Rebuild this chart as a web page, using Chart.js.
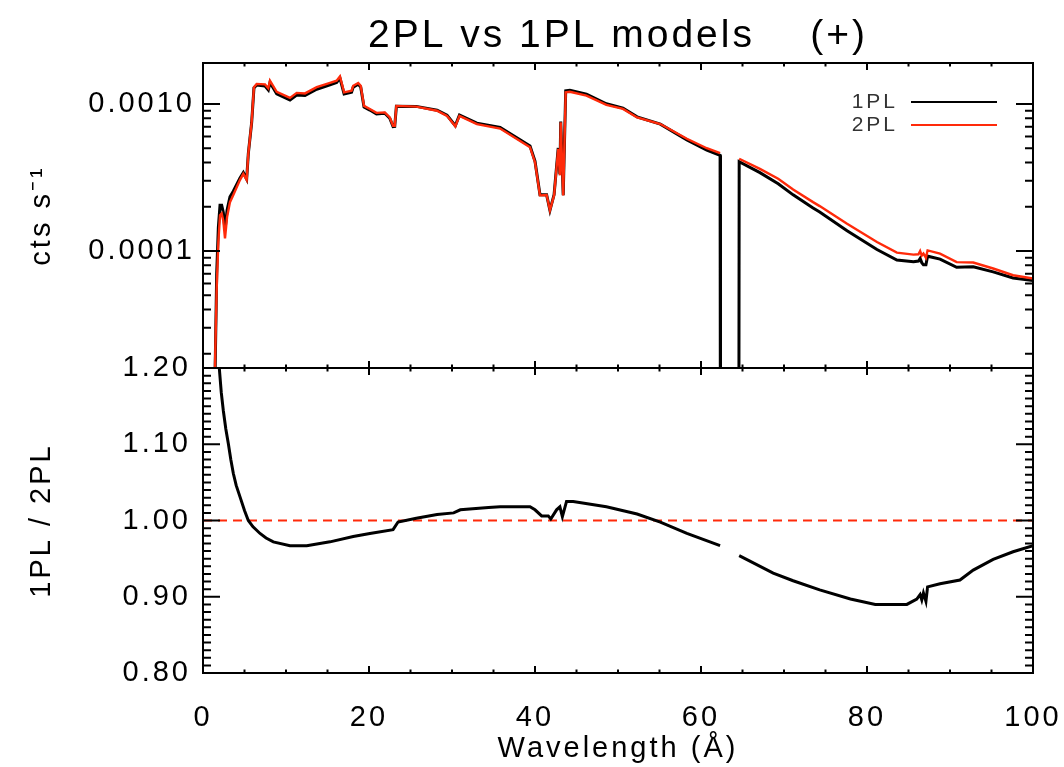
<!DOCTYPE html>
<html>
<head>
<meta charset="utf-8">
<title>2PL vs 1PL models</title>
<script src="https://cdn.jsdelivr.net/npm/chart.js@4/dist/chart.umd.min.js"></script>
<style>
  html, body { margin: 0; padding: 0; background: #fff; }
  #wrap { position: relative; width: 1064px; height: 767px; overflow: hidden; }
  canvas { position: absolute; left: 0; }
  #fluxChart { top: 0; }
  #ratioChart { top: 340px; }
</style>
</head>
<body>
<div id="wrap">
  <canvas id="fluxChart" width="1064" height="372"></canvas>
  <canvas id="ratioChart" width="1064" height="427"></canvas>
</div>
<script>
/* ── DATA ───────────────────────────────────────── */
// top panel: count rate of both models (cts/s) vs wavelength (Å)
const wavelength = [
  1.40, 1.45, 1.65, 1.85, 2.05, 2.25, 2.45, 2.65, 2.9, 3.25, 3.65, 4.46, 4.86, 5.26, 5.46,
  5.86, 6.14, 6.47, 7.47, 7.87, 8.07, 8.88, 10.48, 11.29, 12.29, 13.7, 15.3, 16.1, 16.5,
  17.0, 17.9, 18.1, 18.7, 19.0, 19.4, 20.1, 20.9, 21.9, 22.5, 22.9, 23.1, 23.3, 25.7,
  28.2, 29.4, 30.4, 30.9, 33.0, 35.8, 38.2, 39.4, 40.0, 40.6, 41.4, 41.8, 42.3, 42.8,
  43.0, 43.1, 43.4, 43.7, 44.2, 46.2, 48.6, 50.6, 52.3, 55.1, 58.3, 60.7, 62.3, 62.35,
  64.55, 64.6, 67.1, 69.3, 71.1, 73.5, 74.3, 77.6, 81.2, 83.6, 85.6, 86.2, 86.4, 86.6,
  86.8, 87.1, 87.3, 88.8, 90.8, 92.8, 95.2, 97.6, 100
];
const flux1PL = [
  1e-6, 1.4e-5, 7e-5, 1.45e-4, 2.05e-4, 2.05e-4, 1.83e-4, 1.38e-4, 1.89e-4, 2.34e-4, 2.55e-4, 3.14e-4, 3.42e-4, 3.08e-4, 4.6e-4,
  7.45e-4, 1.285e-3, 1.347e-3, 1.326e-3, 1.245e-3, 1.40e-3, 1.174e-3, 1.064e-3, 1.151e-3, 1.141e-3, 1.259e-3, 1.351e-3, 1.401e-3, 1.50e-3,
  1.171e-3, 1.204e-3, 1.302e-3, 1.362e-3, 1.304e-3, 9.52e-4, 9.09e-4, 8.56e-4, 8.64e-4, 7.99e-4, 7.01e-4, 7.04e-4, 9.66e-4, 9.63e-4,
  9.07e-4, 8.38e-4, 7.12e-4, 8.41e-4, 7.41e-4, 6.92e-4, 5.70e-4, 5.17e-4, 4.08e-4, 2.41e-4, 2.41e-4, 1.89e-4, 2.42e-4, 5.02e-4,
  3.33e-4, 7.6e-4, 2.40e-4, 1.23e-3, 1.24e-3, 1.166e-3, 1.003e-3, 9.38e-4, 8.17e-4, 7.29e-4, 5.70e-4, 4.86e-4, 4.48e-4, 1e-6,
  1e-6, 4.05e-4, 3.41e-4, 2.87e-4, 2.41e-4, 1.96e-4, 1.84e-4, 1.375e-4, 1.023e-4, 8.68e-5, 8.45e-5, 8.55e-5, 8.9e-5, 8.33e-5,
  8.05e-5, 8.05e-5, 9.22e-5, 8.8e-5, 7.74e-5, 7.8e-5, 7.21e-5, 6.56e-5, 6.29e-5
];
const flux2PL = [
  1e-6, 1.7e-5, 5.6e-5, 1.15e-4, 1.75e-4, 1.8e-4, 1.6e-4, 1.22e-4, 1.7e-4, 2.15e-4, 2.4e-4, 3.05e-4, 3.35e-4, 3.05e-4, 4.6e-4,
  7.5e-4, 1.3e-3, 1.37e-3, 1.36e-3, 1.28e-3, 1.44e-3, 1.21e-3, 1.10e-3, 1.19e-3, 1.18e-3, 1.30e-3, 1.39e-3, 1.44e-3, 1.54e-3,
  1.20e-3, 1.23e-3, 1.33e-3, 1.39e-3, 1.33e-3, 9.7e-4, 9.25e-4, 8.7e-4, 8.77e-4, 8.1e-4, 7.1e-4, 7.1e-4, 9.7e-4, 9.6e-4,
  9.0e-4, 8.3e-4, 7.05e-4, 8.3e-4, 7.3e-4, 6.8e-4, 5.6e-4, 5.08e-4, 4.02e-4, 2.39e-4, 2.4e-4, 1.89e-4, 2.39e-4, 4.95e-4,
  3.27e-4, 7.5e-4, 2.39e-4, 1.2e-3, 1.21e-3, 1.14e-3, 9.85e-4, 9.25e-4, 8.1e-4, 7.3e-4, 5.8e-4, 5.0e-4, 4.63e-4, null,
  null, 4.24e-4, 3.62e-4, 3.10e-4, 2.62e-4, 2.15e-4, 2.02e-4, 1.53e-4, 1.15e-4, 9.75e-5, 9.45e-5, 9.5e-5, 1.0e-4, 9.3e-5,
  9.6e-5, 9.0e-5, 1.01e-4, 9.6e-5, 8.4e-5, 8.35e-5, 7.6e-5, 6.84e-5, 6.5e-5
];

// bottom panel: 1PL / 2PL ratio
const ratioWave = [
  1.55, 1.75, 1.97, 2.2, 2.45, 2.75, 3.05, 3.35, 3.65, 4.0, 4.46, 5.0, 5.46, 6.0, 6.87, 7.6, 8.47,
  10.48, 12.5, 15.3, 18.1, 20.1, 22.9, 23.5, 25.7, 28.2, 30.2, 31.0, 34.4, 35.8, 39.4,
  40.0, 40.8, 41.6, 41.9, 42.6, 43.0, 43.3, 43.8, 44.6, 48.6, 52.3, 55.1, 58.3, 62.3,
  62.35, 64.55, 64.6, 68.7, 71.1, 74.3, 78.0, 81.0, 84.8, 86.0, 86.4, 86.6, 86.8, 87.1,
  87.3, 88.8, 91.2, 92.8, 95.2, 97.6, 100
];
const ratio1PL2PL = [
  1.40, 1.28, 1.199, 1.168, 1.144, 1.12, 1.101, 1.080, 1.062, 1.046, 1.031, 1.013, 1.0, 0.992, 0.983, 0.977, 0.972,
  0.967, 0.967, 0.972, 0.979, 0.983, 0.988, 0.998, 1.003, 1.008, 1.010, 1.014, 1.017, 1.018, 1.018,
  1.014, 1.006, 1.006, 1.002, 1.014, 1.018, 1.005, 1.025, 1.025, 1.018, 1.0085, 0.998, 0.983, 0.967,
  null, null, 0.954, 0.931, 0.921, 0.909, 0.897, 0.890, 0.890, 0.897, 0.903, 0.896, 0.905, 0.894,
  0.913, 0.917, 0.922, 0.935, 0.949, 0.959, 0.967
];
const unityWave = [0, 100];
const unityLevel = [1, 1];

// tick labels
const waveTicks = [0, 20, 40, 60, 80, 100];
const fluxTicks = [0.0001, 0.001];
const ratioTicks = [0.8, 0.9, 1.0, 1.1, 1.2];

/* ── STYLE ──────────────────────────────────────── */
const BLACK = "#000000";
const RED = "#ff2a0a";
const FONT = "'Liberation Sans', Arial, Helvetica, sans-serif";
const SPACING = "3px";

const points = (xs, ys) => xs.map((x, i) => ({ x, y: ys[i] }));

// minor tick positions (axis decoration only)
const waveMinor = [];
for (let v = 0; v <= 100; v += 5) waveMinor.push(v);
const fluxMinor = [];
for (let e = -5; e <= -3; e++) for (let k = 2; k <= 9; k++) fluxMinor.push(k * Math.pow(10, e));
const ratioMinor = [];
for (let k = 80; k <= 120; k++) ratioMinor.push(k / 100);

/* ── LEGEND (text left of the line, IDL style) ──── */
function drawLegend(chart) {
  const { ctx, chartArea: a } = chart;
  ctx.save();
  ctx.font = `21px ${FONT}`;
  ctx.textAlign = "right";
  ctx.textBaseline = "middle";
  chart.data.datasets.forEach((d, i) => {
    const yy = a.top + 39 + i * 23;
    ctx.fillStyle = "#333333";
    ctx.fillText(d.label, a.right - 135, yy);
    ctx.strokeStyle = d.borderColor;
    ctx.lineWidth = 2;
    ctx.beginPath();
    ctx.moveTo(a.right - 122, yy);
    ctx.lineTo(a.right - 36, yy);
    ctx.stroke();
  });
  ctx.restore();
}

/* ── FRAME: box + inward ticks on all sides ─────── */
function frame(yMajor, yMinor, withLegend) {
  return {
    id: "frame",
    beforeDraw(chart) {
      chart.ctx.letterSpacing = SPACING;
    },
    afterDatasetsDraw(chart) {
      const { ctx, chartArea: a, scales } = chart;
      const xs = scales.x, ys = scales.y;
      ctx.save();
      ctx.strokeStyle = BLACK;
      ctx.lineWidth = 2;
      ctx.strokeRect(a.left, a.top, a.right - a.left, a.bottom - a.top);
      ctx.beginPath();
      waveMinor.forEach((v) => {
        const px = xs.getPixelForValue(v);
        const len = waveTicks.includes(v) ? 7 : 3.5;
        ctx.moveTo(px, a.bottom); ctx.lineTo(px, a.bottom - len);
        ctx.moveTo(px, a.top); ctx.lineTo(px, a.top + len);
      });
      const tick = (v, len) => {
        const py = ys.getPixelForValue(v);
        if (py < a.top - 0.5 || py > a.bottom + 0.5) return;
        ctx.moveTo(a.left, py); ctx.lineTo(a.left + len, py);
        ctx.moveTo(a.right, py); ctx.lineTo(a.right - len, py);
      };
      yMinor.forEach((v) => tick(v, 8));
      yMajor.forEach((v) => tick(v, 17));
      ctx.stroke();
      ctx.restore();
    },
    afterDraw(chart) {
      if (withLegend) drawLegend(chart);
    },
  };
}

const noPad = (s) => {
  s.paddingTop = 0; s.paddingBottom = 0; s.paddingLeft = 0; s.paddingRight = 0;
};
const textFont = { family: FONT, size: 29 };

/* ── TOP: FLUX ──────────────────────────────────── */
new Chart(document.getElementById("fluxChart"), {
  type: "line",
  data: {
    datasets: [
      { label: "1PL", data: points(wavelength, flux1PL), borderColor: BLACK, borderWidth: 3, order: 2 },
      { label: "2PL", data: points(wavelength, flux2PL), borderColor: RED, borderWidth: 2.4, order: 1 },
    ],
  },
  options: {
    responsive: false,
    animation: false,
    elements: { point: { radius: 0 }, line: { tension: 0, fill: false } },
    layout: { padding: { left: 0, right: 31, top: 0, bottom: 4 } },
    plugins: {
      legend: { display: false },
      tooltip: { enabled: false },
      title: {
        display: true,
        text: "2PL vs 1PL models    (+)",
        fullSize: false,
        color: BLACK,
        font: { family: FONT, size: 39, weight: "normal" },
        padding: { top: 12.5, bottom: 3.7 },
      },
    },
    scales: {
      x: { type: "linear", min: 0, max: 100, display: false },
      y: {
        type: "logarithmic",
        min: 1.6e-5,
        max: 1.9e-3,
        afterBuildTicks: (s) => { s.ticks = fluxTicks.map((v) => ({ value: v })); },
        afterFit: (s) => { s.width = 203; noPad(s); },
        grid: { display: false, drawTicks: false },
        border: { display: false },
        ticks: { color: BLACK, padding: 8, font: textFont, callback: (v) => Number(v).toFixed(4) },
        title: { display: true, text: "cts s⁻¹", color: BLACK, font: textFont, padding: { top: 24.6 } },
      },
    },
  },
  plugins: [frame(fluxTicks, fluxMinor, true)],
});

/* ── BOTTOM: RATIO ──────────────────────────────── */
new Chart(document.getElementById("ratioChart"), {
  type: "line",
  data: {
    datasets: [
      { label: "1PL / 2PL", data: points(ratioWave, ratio1PL2PL), borderColor: BLACK, borderWidth: 3, order: 1 },
      { label: "unity", data: points(unityWave, unityLevel), borderColor: RED, borderWidth: 2.2, borderDash: [9, 6], order: 2 },
    ],
  },
  options: {
    responsive: false,
    animation: false,
    elements: { point: { radius: 0 }, line: { tension: 0, fill: false } },
    layout: { padding: { left: 0, right: 31, top: 28, bottom: 0 } },
    plugins: { legend: { display: false }, tooltip: { enabled: false } },
    scales: {
      x: {
        type: "linear",
        min: 0,
        max: 100,
        afterBuildTicks: (s) => { s.ticks = waveTicks.map((v) => ({ value: v })); },
        afterFit: (s) => { s.height = 94; noPad(s); },
        grid: { display: false, drawTicks: false },
        border: { display: false },
        ticks: { color: BLACK, padding: 27.6, font: textFont, maxRotation: 0, autoSkip: false },
        title: { display: true, text: "Wavelength (Å)", color: BLACK, font: textFont, padding: { top: 0, bottom: 0.6 } },
      },
      y: {
        type: "linear",
        min: 0.8,
        max: 1.2,
        afterBuildTicks: (s) => { s.ticks = ratioTicks.map((v) => ({ value: v })); },
        afterFit: (s) => { s.width = 203; noPad(s); },
        grid: { display: false, drawTicks: false },
        border: { display: false },
        ticks: { color: BLACK, padding: 12, font: textFont, callback: (v) => Number(v).toFixed(2) },
        title: { display: true, text: "1PL / 2PL", color: BLACK, font: textFont, padding: { top: 24.6 } },
      },
    },
  },
  plugins: [frame(ratioTicks, ratioMinor, false)],
});
</script>
</body>
</html>
